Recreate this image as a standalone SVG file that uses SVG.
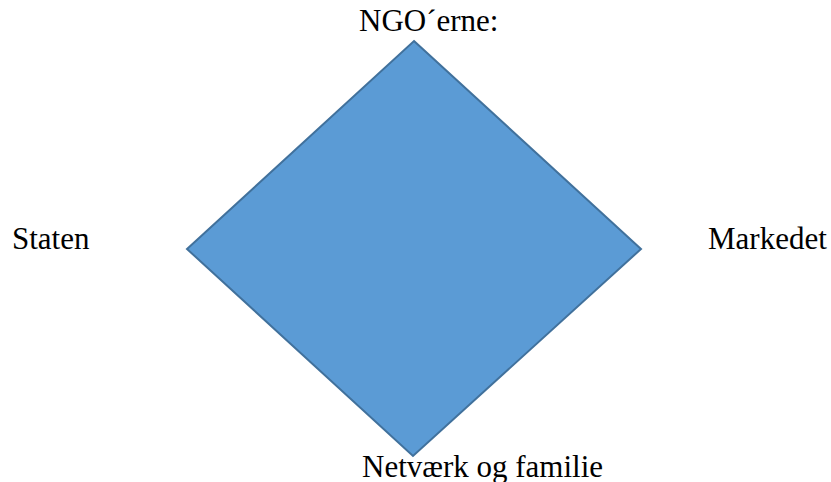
<svg xmlns="http://www.w3.org/2000/svg" width="831" height="482" viewBox="0 0 831 482">
<style>
text{font-family:'Liberation Serif','Times New Roman','DejaVu Serif',serif;font-size:31px;fill:#000}
.shape{fill:#5B9BD5;stroke:#41719C;stroke-width:2}
</style>
<rect width="831" height="482" fill="#fff"/>
<g id="diamond">
<polygon class="shape" points="414,41 641,249 413,456 187,249"/>
</g>
<g id="connectors"></g>
<g id="ngo"><text x="359" y="31">NGO´erne:</text></g>
<g id="staten"><text x="12" y="249">Staten</text></g>
<g id="markedet"><text x="708" y="249">Markedet</text></g>
<g id="netvaerk"><text x="362" y="477">Netværk og familie</text></g>
</svg>
